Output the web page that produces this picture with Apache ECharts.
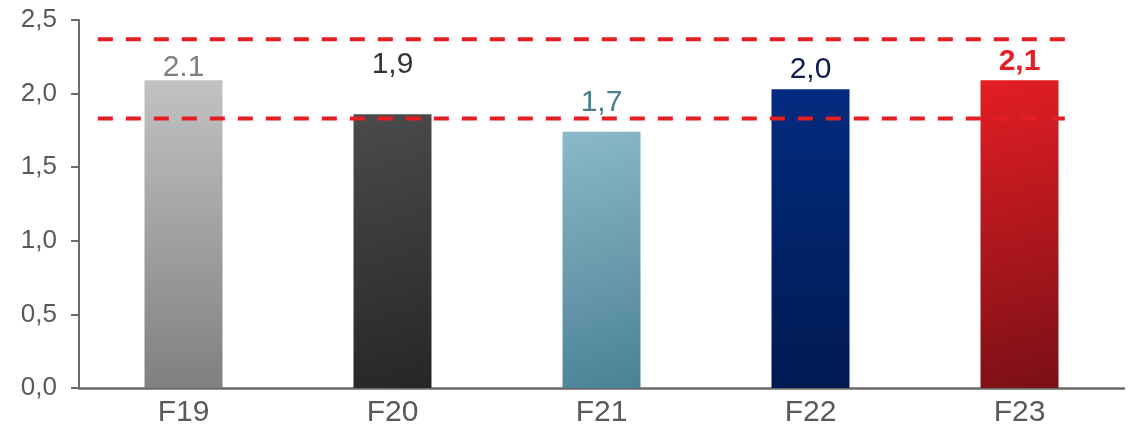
<!DOCTYPE html>
<html>
<head>
<meta charset="utf-8">
<script src="https://cdn.jsdelivr.net/npm/echarts@6/dist/echarts.min.js"></script>
<style>html,body{margin:0;padding:0;background:#fff}#chart{width:1134px;height:428px}</style>
</head>
<body>
<div id="chart"></div>
<script>
// values
var categories = ['F19', 'F20', 'F21', 'F22', 'F23'];
var values = [2.09, 1.86, 1.74, 2.03, 2.09];
var valueLabels = ['2.1', '1,9', '1,7', '2,0', '2,1'];
var refLines = [2.37, 1.83];
var refLineSpan = [-0.41, 4.22]; // in category units

var labelColors = ['#7f7f7f', '#333333', '#4a7f90', '#0d1f4f', '#e31e24'];
var labelGaps = [-2, 34, 14, 4, 4];
var barFills = [
  ['#c2c2c2', '#808080', 0, 0, 0, 1],
  ['#4b4b4b', '#262626', 0, 0, 1, 1],
  ['#8bb9c9', '#4a8194', 0, 0, 1, 1],
  ['#032b80', '#001a52', 0, 0, 0, 1],
  ['#e31e24', '#7a1016', 0, 0, 1, 1]
];

function grad(f){
  return new echarts.graphic.LinearGradient(f[2], f[3], f[4], f[5], [
    {offset: 0, color: f[0]}, {offset: 1, color: f[1]}
  ]);
}

var chart = echarts.init(document.getElementById('chart'));

var barData = values.map(function(v, i){
  return {
    value: v,
    itemStyle: {color: grad(barFills[i])},
    label: {
      show: true, position: 'top', distance: labelGaps[i],
      formatter: valueLabels[i],
      color: labelColors[i],
      fontSize: 30,
      fontWeight: i === 4 ? 'bold' : 'normal'
    }
  };
});

var lineSeries = refLines.map(function(y){
  return {
    type: 'line', xAxisIndex: 1, yAxisIndex: 0,
    data: [[refLineSpan[0], y], [refLineSpan[1], y]],
    symbol: 'none', silent: true, z: 5,
    lineStyle: {color: '#e31e24', width: 4, type: [15, 13]}
  };
});

chart.setOption({
  animation: false,
  textStyle: {fontFamily: 'Liberation Sans, Arial, sans-serif'},
  grid: {left: 79, right: 10, top: 20, bottom: 37},
  xAxis: [{
    type: 'category', data: categories,
    axisLine: {lineStyle: {color: '#6b6b6b', width: 2.5}},
    axisTick: {show: false},
    axisLabel: {color: '#595959', fontSize: 30, margin: 10}
  }, {
    type: 'value', min: -0.5, max: 4.5, show: false
  }],
  yAxis: {
    type: 'value', min: 0, max: 2.5, interval: 0.5,
    axisLine: {show: true, onZero: false, lineStyle: {color: '#6b6b6b', width: 2}},
    axisTick: {show: true, length: 8, lineStyle: {color: '#6b6b6b', width: 2}},
    splitLine: {show: false},
    axisLabel: {
      color: '#595959', fontSize: 26, margin: 22,
      formatter: function(v){ return v.toFixed(1).replace('.', ','); }
    }
  },
  series: [{
    type: 'bar', data: barData, barWidth: 78
  }].concat(lineSeries)
});
</script>
</body>
</html>
